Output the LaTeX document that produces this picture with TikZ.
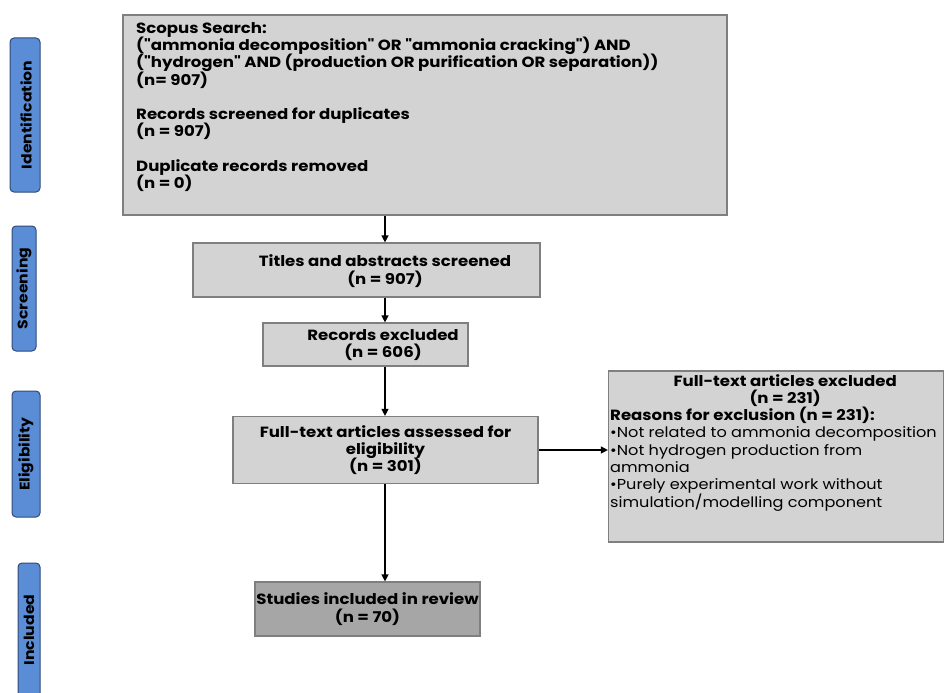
\documentclass[tikz,border=0pt]{standalone}
\usepackage{fontspec}
\setmainfont{Poppins}[Ligatures=TeXOff,FakeStretch=1.12]
\usetikzlibrary{arrows.meta}
\definecolor{boxfill}{HTML}{D3D3D3}
\definecolor{boxline}{HTML}{7F7F7F}
\definecolor{darkfill}{HTML}{A6A6A6}
\definecolor{sidefill}{HTML}{5B8DD6}
\definecolor{sideline}{HTML}{2F4A78}
\newcommand{\tightls}{\lineskiplimit=-20pt\relax\lineskip=0pt\relax}
\begin{document}
\begin{tikzpicture}[x=1pt,y=-1pt,
  every node/.style={font=\fontsize{14.4}{17.3}\selectfont\tightls},
  bf/.style={font=\fontsize{14.8}{17.3}\selectfont\bfseries\tightls},
  gbox/.style={draw=boxline,line width=1.2pt,fill=boxfill,inner sep=0pt},
  dbox/.style={draw=boxline,line width=1.2pt,fill=darkfill,inner sep=0pt},
  side/.style={draw=sideline,line width=1pt,fill=sidefill,rounded corners=4pt,inner sep=0pt},
  sidetext/.style={rotate=90,font=\fontsize{14}{16}\selectfont\bfseries,text=black},
  arr/.style={line width=1.3pt,-{Triangle[length=7pt,width=7pt]}}]
\useasboundingbox (0,0) rectangle (948,693);
% side labels
\node[side,minimum width=30pt,minimum height=154pt] (sid) at (25,115) {};
\node[sidetext] (sidt) at (26,115) {Identification};
\node[side,minimum width=24pt,minimum height=125pt] (sscr) at (24,288.5) {};
\node[sidetext] (sscrt) at (24,288.5) {Screening};
\node[side,minimum width=28pt,minimum height=126pt] (sel) at (26,454) {};
\node[sidetext] (selt) at (26,454) {Eligibility};
\node[side,minimum width=22pt,minimum height=150pt] (sin) at (29,638) {};
\node[sidetext] (sint) at (29,630) {Included};
% boxes
\node[gbox,minimum width=604pt,minimum height=200pt] (top) at (425,115) {};
\node[anchor=north west,align=left,inner sep=0pt,bf] (toptext) at (136,22) {Scopus Search:\\
("ammonia decomposition" OR "ammonia cracking") AND\\
("hydrogen" AND (production OR purification OR separation))\\
(n= 907)\\[17.3pt]
Records screened for duplicates\\
(n = 907)\\[17.3pt]
Duplicate records removed\\
(n = 0)};
\node[gbox,minimum width=347pt,minimum height=54pt] (titles) at (366.5,270) {};
\node[align=center,bf] (titlest) at (385,271) {Titles and abstracts screened\\(n = 907)};
\node[gbox,minimum width=205pt,minimum height=43pt] (rec) at (365.5,344.5) {};
\node[align=center,bf] (rect) at (383,345) {Records excluded\\(n = 606)};
\node[gbox,minimum width=305pt,minimum height=67pt,align=center,bf] (assess) at (385.5,450) {Full-text articles assessed for\\eligibility\\(n = 301)};
\node[gbox,minimum width=335pt,minimum height=171pt] (excl) at (776,456.5) {};
\node[anchor=north west,align=left,inner sep=0pt] (exclt) at (610,374) {\parbox[b]{350pt}{\centering\fontsize{14.8}{17.3}\selectfont\bfseries\tightls Full-text articles excluded\\(n = 231)}\\
{\fontsize{14.8}{17.3}\selectfont\bfseries Reasons for exclusion (n = 231):}\\
•Not related to ammonia decomposition\\
•Not hydrogen production from\\
ammonia\\
•Purely experimental work without\\
simulation/modelling component};
\node[dbox,minimum width=225pt,minimum height=54pt,align=center,bf] (stud) at (367.5,609) {Studies included in review\\(n = 70)};
% connectors
\coordinate (spine) at (385,0);
\draw[arr] (top.south -| spine) -- (titles.north -| spine);
\draw[arr] (titles.south -| spine) -- (rec.north -| spine);
\draw[arr] (rec.south -| spine) -- (assess.north -| spine);
\draw[arr] (assess.south -| spine) -- (stud.north -| spine);
\draw[arr] (assess.east) -- (assess.east -| excl.west);
\end{tikzpicture}
\end{document}
